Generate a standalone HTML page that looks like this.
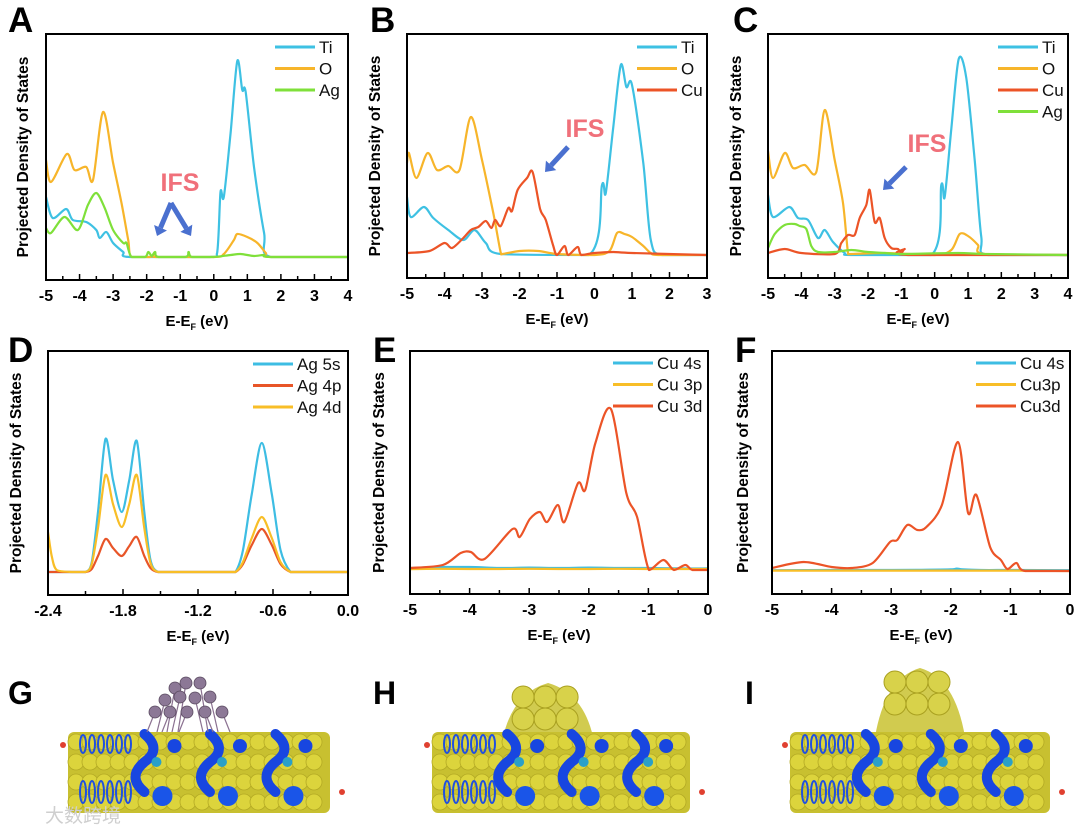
<!DOCTYPE html>
<html><head><meta charset="utf-8"><style>
html,body{margin:0;padding:0;background:#fff;}
svg{display:block;font-family:"Liberation Sans","Noto Sans CJK SC",sans-serif;}
</style></head><body>
<svg id="fig" width="1080" height="830" viewBox="0 0 1080 830" xmlns="http://www.w3.org/2000/svg">
</svg>
<script>
// ---------- Panel A data ----------
const aTiE=[-5,-4.8,-4.4,-4.2,-3.8,-3.5,-3.4,-3.2,-3.0,-2.7,-2.5,-0.15,0.1,0.2,0.3,0.5,0.7,0.85,0.95,1.2,1.5,1.7,4];
const aTiV=[3.0,1.95,2.4,1.85,1.75,1.35,0.95,1.25,0.7,0.25,0,0,0.2,3.25,3.0,6.2,9.8,8.35,8.25,4.5,1.2,0,0];
const aOE=[-5,-4.85,-4.38,-4.15,-3.8,-3.6,-3.3,-3.0,-2.75,-2.55,-2.45,-1.9,-1.8,-1.7,0,0.3,0.6,0.7,1.0,1.3,1.55,1.7,4];
const aOV=[4.85,3.75,5.15,4.35,4.5,3.85,7.25,4.7,2.7,0.85,0,0,0.1,0,0,0.15,0.85,1.15,1.0,0.7,0.2,0,0];
const aAgE=[-5,-4.85,-4.45,-4.05,-3.75,-3.5,-3.25,-3.0,-2.7,-2.6,-2.45,-2.05,-1.95,-1.85,-1.75,-1.65,-0.85,-0.75,-0.65,0,0.5,0.8,1.2,1.5,1.7,4];
const aAgV=[1.45,1.2,2.0,1.35,2.6,3.2,2.45,1.35,0.7,0.7,0,0,0.25,0.05,0.25,0,0,0.25,0,0,0.1,0.15,0.05,0.1,0,0];
// ---------- Panel B data ----------
const bTiE=[-5,-4.9,-4.55,-4.3,-3.9,-3.5,-3.2,-2.9,-2.5,-0.15,0.2,0.3,0.5,0.7,0.85,1.0,1.3,1.5,1.8,3];
const bTiV=[2.9,1.9,2.4,1.85,1.25,0.75,1.25,0.6,0.05,0,3.5,3.1,6.4,9.5,8.4,8.5,4.6,0.75,0,0];
const bOE=[-5,-4.95,-4.75,-4.45,-4.2,-3.9,-3.6,-3.3,-3.0,-2.7,-2.5,-2.45,-2,-1.5,-1,0,0.4,0.6,0.8,1.0,1.3,1.5,1.7,3];
const bOV=[4.6,5.1,3.85,5.1,4.25,4.45,4.25,6.9,4.75,2.1,0.1,0.05,0.2,0.2,0.05,0,0.2,1.1,1.05,0.9,0.45,0.1,0,0];
const bCuE=[-5,-4.4,-4.0,-3.8,-3.5,-3.3,-3.1,-2.9,-2.75,-2.65,-2.5,-2.3,-2.2,-2.05,-1.8,-1.65,-1.45,-1.3,-1.1,-1.0,-0.8,-0.7,-0.45,-0.35,0,0.5,1,3];
const bCuV=[0.1,0.2,0.6,0.35,0.85,1.25,1.4,1.7,1.35,1.75,1.45,2.35,2.2,3.25,3.85,4.15,2.3,1.75,0.45,0,0.45,0,0.4,0,0.1,0.15,0.1,0];
// ---------- Panel C data ----------
const cTiE=[-5,-4.85,-4.36,-4.1,-3.8,-3.5,-3.3,-3.05,-2.7,-2.5,-0.1,0.2,0.3,0.5,0.72,0.95,1.2,1.4,1.6,4];
const cTiV=[3.0,1.9,2.4,1.85,1.75,0.85,1.25,0.65,0.1,0,0,3.5,2.9,6.3,9.8,8.85,4.75,0.9,0,0];
const cOE=[-5,-4.85,-4.5,-4.25,-3.9,-3.55,-3.3,-3.0,-2.75,-2.6,-2.5,-1.5,0,0.5,0.75,1.0,1.3,1.5,4];
const cOV=[5.2,3.85,5.1,4.35,4.5,4.15,7.25,4.75,2.6,0.1,0.05,0.1,0,0.25,1.05,0.95,0.5,0.05,0];
const cCuE=[-5,-4.5,-4.0,-3.0,-2.8,-2.6,-2.4,-2.25,-2.05,-1.95,-1.8,-1.65,-1.5,-1.3,-1.1,-1.0,-0.9,-0.8,4];
const cCuV=[0.1,0.3,0.1,0.05,0.6,1.0,1.0,1.85,2.5,3.25,1.65,1.85,0.85,0.35,0.3,0.1,0.3,0,0];
const cAgE=[-5,-4.8,-4.5,-4.2,-4.05,-3.85,-3.7,-3.5,-3.0,-2.5,-2,-1.5,-1,0.7,1.5,4];
const cAgV=[0.35,1.05,1.5,1.55,1.45,1.3,0.45,0.15,0.15,0.25,0.15,0.1,0.05,0.1,0.05,0];
// ---------- Panel D data ----------
const dE=[-2.4,-2.37,-2.33,-2.2,-2.1,-2.05,-2.0,-1.94,-1.88,-1.81,-1.75,-1.69,-1.63,-1.58,-1.52,-1.4,-0.95,-0.9,-0.84,-0.77,-0.69,-0.61,-0.54,-0.46,-0.4,0];
const dAg5s=[0,0,0,0,0,0.5,3.0,6.65,4.6,3.0,4.6,6.55,3.0,0.6,0,0,0,0,1.1,3.9,6.45,3.9,1.1,0,0,0];
const dAg4p=[0,0,0,0,0,0.15,0.8,1.65,1.2,0.8,1.3,1.75,0.8,0.2,0,0,0,0,0.4,1.35,2.15,1.35,0.4,0,0,0];
const dAg4d=[2.0,0.8,0.1,0,0,0.4,2.2,4.85,3.4,2.25,3.4,4.85,2.2,0.45,0,0,0,0,0.5,1.7,2.75,1.7,0.5,0,0,0];
// ---------- Panel E data ----------
const eCuE=[-5,-4.45,-4.15,-3.98,-3.75,-3.28,-3.16,-2.99,-2.82,-2.7,-2.52,-2.41,-2.18,-2.06,-1.89,-1.63,-1.37,-1.19,-0.99,-0.75,-0.57,-0.38,-0.26,0];
const eCu3d=[0.1,0.25,0.85,0.9,0.55,2.05,1.65,2.55,2.9,2.4,3.25,2.4,4.35,4.0,6.35,8.05,3.85,2.65,0,0.5,0,0.25,0,0];
const eSE=[-5,-4.5,-4,-3.5,-3,-2.5,-2,-1.5,-1,-0.5,0];
const eCu4s=[0.1,0.15,0.15,0.1,0.12,0.1,0.12,0.1,0.1,0.08,0.08];
const eCu3p=[0.04,0.06,0.05,0.05,0.06,0.05,0.05,0.06,0.05,0.05,0.05];
// ---------- Panel F data ----------
const fCuE=[-5,-4.47,-4.0,-3.66,-3.31,-3.02,-2.9,-2.73,-2.56,-2.41,-2.15,-1.88,-1.71,-1.57,-1.34,-1.16,-1.05,-0.9,-0.75,0];
const fCu3d=[0.15,0.45,0.2,0.15,0.4,1.45,1.55,2.3,2.05,2.2,3.3,6.45,2.9,3.8,1.2,0.55,0.1,0.4,0,0];
const fSE=[-5,-4,-3,-2.5,-2,-1.9,-1.8,-1.5,-1,0];
const fCu4s=[0.04,0.05,0.05,0.06,0.08,0.12,0.08,0.05,0.05,0.04];
const fCu3p=[0.02,0.02,0.02,0.02,0.02,0.02,0.02,0.02,0.02,0.0];

const NS="http://www.w3.org/2000/svg";
const svg=document.getElementById('fig');
function mk(tag,attrs,parent){const e=document.createElementNS(NS,tag);for(const k in attrs)e.setAttribute(k,attrs[k]);(parent||svg).appendChild(e);return e;}
function txt(s,attrs,parent){const e=mk('text',attrs,parent);e.textContent=s;return e;}
function smooth(pts,base){
  let d='M'+pts[0][0].toFixed(1)+','+pts[0][1].toFixed(1);
  for(let i=0;i<pts.length-1;i++){
    const p0=pts[i-1]||pts[i],p1=pts[i],p2=pts[i+1],p3=pts[i+2]||p2;
    const t=0.15;
    const c1=[p1[0]+(p2[0]-p0[0])*t,Math.min(base,p1[1]+(p2[1]-p0[1])*t)];
    const c2=[p2[0]-(p3[0]-p1[0])*t,Math.min(base,p2[1]-(p3[1]-p1[1])*t)];
    if(p1[1]>=base-0.5&&p2[1]>=base-0.5){c1[1]=p1[1];c2[1]=p2[1];}
    d+=' C'+c1[0].toFixed(1)+','+c1[1].toFixed(1)+' '+c2[0].toFixed(1)+','+c2[1].toFixed(1)+' '+p2[0].toFixed(1)+','+p2[1].toFixed(1);
  }
  return d;
}
function panel(P){
  const g=mk('g',{});
  
  
  const xs=v=>P.x0+(v-P.xmin)/(P.xmax-P.xmin)*(P.x1-P.x0);
  const ys=v=>P.base-v*P.unit;
  P.series.forEach(s=>{
    const pts=s.e.map((e,i)=>[xs(e),ys(s.v[i])]);
    const p=mk('path',{d:smooth(pts,P.base),fill:'none',stroke:s.c,'stroke-width':2.2,'stroke-linejoin':'round'},g);
    
    
  });
  const fr=mk('rect',{x:P.x0,y:P.y0,width:P.x1-P.x0,height:P.y1-P.y0,fill:'none',stroke:'#000','stroke-width':2},g);
  
  
  for(let k=0;;k++){
    const v=P.xmin+k*P.minor; if(v>P.xmax+1e-9)break;
    const major=Math.abs((v-P.xmin)/P.major-Math.round((v-P.xmin)/P.major))<1e-6;
    const x=xs(v);
    mk('line',{x1:x,x2:x,y1:P.y1,y2:P.y1-(major?6:4),stroke:'#000','stroke-width':1.5},g);
    if(major){
      const lbl=txt(P.fmt(v),{x:x,y:P.y1+21,'text-anchor':'middle','font-size':16,'font-weight':'bold'},g);
      
      
    }
  }
  const xt=mk('text',{x:(P.x0+P.x1)/2,y:P.y1+46,'text-anchor':'middle','font-size':15,'font-weight':'bold'},g);
  
  
  const t1=mk('tspan',{},xt);t1.textContent='E-E';
  const t2=mk('tspan',{'font-size':9,dy:4},xt);t2.textContent='F';
  const t3=mk('tspan',{dy:-4},xt);t3.textContent=' (eV)';
  const cy=(P.y0+P.y1)/2;
  const yt=txt('Projected Density of States',{x:P.ytx,y:cy,'text-anchor':'middle','font-size':15.5,'font-weight':'bold',transform:'rotate(-90 '+P.ytx+' '+cy+')'},g);
  
  
  const L=txt(P.id,{x:P.lx,y:P.ly,'font-size':35,'font-weight':'bold'},g);
  
  
  P.series.forEach((s,i)=>{
    const y=P.legY+i*21.5;
    const le=mk('g',{},g);
    
    
    mk('line',{x1:P.legX,x2:P.legX+40,y1:y,y2:y,stroke:s.c,'stroke-width':3},le);
    txt(s.n,{x:P.legX+44,y:y+6,'font-size':17,fill:'#111'},le);
  });
  return {g,xs,ys};
}
const TI='#3ec1e3',OO='#f7b52a',AG='#7fe03a',CU='#ec5427';
const intf=v=>String(Math.round(v));
panel({id:'A',x0:46,x1:348,y0:34,y1:280,xmin:-5,xmax:4,base:257,unit:20,major:1,minor:0.5,fmt:intf,ytx:28,lx:8,ly:32,legX:275,legY:47,
 series:[{n:'Ti',c:TI,e:aTiE,v:aTiV},{n:'O',c:OO,e:aOE,v:aOV},{n:'Ag',c:AG,e:aAgE,v:aAgV}]});
panel({id:'B',x0:407,x1:707,y0:34,y1:278,xmin:-5,xmax:3,base:255,unit:20,major:1,minor:0.5,fmt:intf,ytx:380,lx:370,ly:32,legX:637,legY:47,
 series:[{n:'Ti',c:TI,e:bTiE,v:bTiV},{n:'O',c:OO,e:bOE,v:bOV},{n:'Cu',c:CU,e:bCuE,v:bCuV}]});
panel({id:'C',x0:768,x1:1068,y0:34,y1:278,xmin:-5,xmax:4,base:255,unit:20,major:1,minor:0.5,fmt:intf,ytx:741,lx:733,ly:32,legX:998,legY:47,
 series:[{n:'Ti',c:TI,e:cTiE,v:cTiV},{n:'O',c:OO,e:cOE,v:cOV},{n:'Cu',c:CU,e:cCuE,v:cCuV},{n:'Ag',c:AG,e:cAgE,v:cAgV}]});
panel({id:'D',x0:48,x1:348,y0:351,y1:595,xmin:-2.4,xmax:0,base:572,unit:20,major:0.6,minor:0.3,fmt:v=>v.toFixed(1),ytx:21,lx:8,ly:362,legX:253,legY:364,
 series:[{n:'Ag 5s',c:'#3dbde3',e:dE,v:dAg5s},{n:'Ag 4p',c:'#e85528',e:dE,v:dAg4p},{n:'Ag 4d',c:'#f8be27',e:dE,v:dAg4d}]});
panel({id:'E',x0:410,x1:708,y0:351,y1:594,xmin:-5,xmax:0,base:570,unit:20,major:1,minor:0.5,fmt:intf,ytx:384,lx:373,ly:362,legX:613,legY:363,
 series:[{n:'Cu 4s',c:'#3dbde3',e:eSE,v:eCu4s},{n:'Cu 3p',c:'#f8be27',e:eSE,v:eCu3p},{n:'Cu 3d',c:CU,e:eCuE,v:eCu3d}]});
panel({id:'F',x0:772,x1:1070,y0:351,y1:594,xmin:-5,xmax:0,base:571,unit:20,major:1,minor:0.5,fmt:intf,ytx:748,lx:735,ly:362,legX:976,legY:363,
 series:[{n:'Cu 4s',c:'#3dbde3',e:fSE,v:fCu4s},{n:'Cu3p',c:'#f8be27',e:fSE,v:fCu3p},{n:'Cu3d',c:CU,e:fCuE,v:fCu3d}]});

function ifs(x,y){const t=txt('IFS',{x:x,y:y,'text-anchor':'middle','font-size':25,'font-weight':'bold',fill:'#f0707a'});
 
 }
function arrow(x1,y1,x2,y2){const dx=x2-x1,dy=y2-y1,l=Math.hypot(dx,dy),ux=dx/l,uy=dy/l;
 const bx=x2-ux*9,by=y2-uy*9;
 const a=mk('g',{});
 
 
 mk('line',{x1:x1,y1:y1,x2:bx,y2:by,stroke:'#4a70cf','stroke-width':5},a);
 mk('polygon',{points:`${x2},${y2} ${bx-uy*7},${by+ux*7} ${bx+uy*7},${by-ux*7}`,fill:'#4a70cf'},a);}
ifs(180,191);arrow(171,203,157,236);arrow(171,203,191,236);
ifs(585,137);arrow(568,147,545,172);
ifs(927,152);arrow(906,167,883,190);

function structure(id,lx,x0,x1,kind){
  const g=mk('g',{});
  
  
  const L=txt(id,{x:lx,y:704,'font-size':32,'font-weight':'bold'},g);
  
  
  const top=732,bot=813,w=x1-x0;
  if(kind==='H'||kind==='I'){
    const cx=kind==='H'?x0+w*0.45:x0+w*0.5, tt=kind==='H'?683:668;
    mk('path',{d:`M${cx-45},${top+5} Q${cx-35},${tt+10} ${cx},${tt} Q${cx+35},${tt+10} ${cx+45},${top+5} Z`,fill:'#c9c230',opacity:0.85},g);
    for(let i=0;i<6;i++)mk('circle',{cx:cx-25+(i%3)*22,cy:tt+14+Math.floor(i/3)*22,r:11,fill:'#d8d24a',stroke:'#a9a020','stroke-width':1},g);
  }
  mk('rect',{x:x0,y:top,width:w,height:bot-top,fill:'#c8c030',rx:6},g);
  for(let r=0;r<4;r++)for(let c=0;c<Math.floor(w/14);c++)
    mk('circle',{cx:x0+8+c*14,cy:top+10+r*20,r:8,fill:'#dcd43c',stroke:'#b3a924','stroke-width':0.8},g);
  for(let c=0;c<3;c++){const bx=x0+w*0.33+c*w*0.25;
    mk('path',{d:`M${bx-10},${top+2} q18,15 0,28 q-18,15 0,30`,fill:'none',stroke:'#1846e0','stroke-width':10,'stroke-linecap':'round'},g);
    mk('circle',{cx:bx+20,cy:top+14,r:7,fill:'#1846e0'},g);
    mk('circle',{cx:bx+8,cy:top+64,r:10,fill:'#1a55e8'},g);
    mk('circle',{cx:bx+2,cy:top+30,r:5,fill:'#2aa0c8'},g);}
  for(let c=0;c<6;c++){mk('ellipse',{cx:x0+15+c*9,cy:top+12,rx:3,ry:9,fill:'none',stroke:'#2050e0','stroke-width':2},g);
    mk('ellipse',{cx:x0+15+c*9,cy:top+60,rx:3,ry:11,fill:'none',stroke:'#2050e0','stroke-width':2},g);}
  mk('circle',{cx:x0-5,cy:top+13,r:3,fill:'#e04030'},g);
  mk('circle',{cx:x1+12,cy:top+60,r:3,fill:'#e04030'},g);
  if(kind==='G'){
    const pts=[[175,688],[186,683],[200,683],[165,700],[180,697],[195,698],[210,697],[155,712],[170,712],[187,712],[205,712],[222,712]];
    pts.forEach(p=>mk('line',{x1:p[0],y1:p[1],x2:p[0]+(p[0]>190?8:-8),y2:top,stroke:'#8a7090','stroke-width':1.2},g));
    pts.forEach(p=>mk('circle',{cx:p[0],cy:p[1],r:6,fill:'#8c7896',stroke:'#5a4a60','stroke-width':0.8},g));
  }
}
structure('G',8,68,330,'G');
structure('H',373,432,690,'H');
structure('I',745,790,1050,'I');
const wm=txt('大数跨境',{x:45,y:822,'font-size':19,fill:'#cfcfcf','font-family':'"Noto Sans CJK SC",sans-serif'});


</script>
</body></html>
